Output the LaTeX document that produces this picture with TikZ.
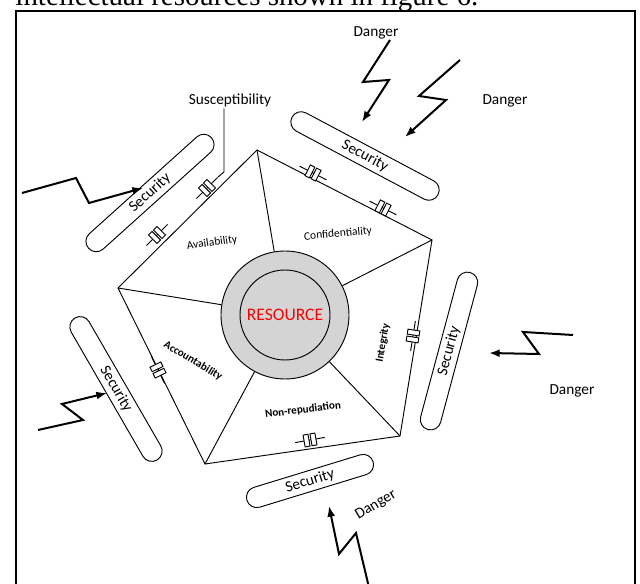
\documentclass[tikz,border=0pt]{standalone}
\usepackage{fontspec}
\setmainfont{Carlito}
\newfontfamily\captionfont{Liberation Serif}
\usetikzlibrary{arrows.meta}

\begin{document}
\begin{tikzpicture}[x=0.75pt,y=-0.75pt,line width=0.7pt]
\tikzstyle{shield}=[draw, rounded corners=7.75pt, minimum height=15.5pt, inner sep=0pt, font=\fontsize{11.5}{12}\selectfont]
\tikzstyle{danger}=[inner sep=1pt, font=\fontsize{11.5}{12}\selectfont]
\tikzstyle{face}=[inner sep=1pt, font=\fontsize{8.6}{10}\selectfont]
\tikzstyle{facebold}=[inner sep=1pt, font=\fontsize{8.3}{10}\selectfont\bfseries]
\tikzstyle{bolt}=[line width=1.5pt, -{Latex[length=8pt,width=6pt]}]
\tikzset{gap/.pic={
  \draw (-15,0) -- (15,0);
  \draw[fill=white] (-6,-6) rectangle (-1,6);
  \draw[fill=white] (1,-6) rectangle (6,6);
}}
\useasboundingbox (0,0) rectangle (640,584);

% caption line of the page, cut off at the top
\node[anchor=base west, inner sep=0pt, font=\captionfont\fontsize{21.7}{24}\selectfont] (cap) at (15,6) {intellectual resources shown in figure 6.};
\draw[line width=1.8pt] (16,11) rectangle (635,600);

% pentagon of properties
\coordinate (pT) at (257,150);
\coordinate (pR) at (432,240);
\coordinate (pBR) at (400,436);
\coordinate (pBL) at (205,464);
\coordinate (pL) at (118,288);
\draw (pT) -- (pR) -- (pBR) -- (pBL) -- (pL) -- cycle;

% resource in the middle
\node[circle, draw, fill=black!17, minimum size=96pt] (res) at (285,315) {};
\node[circle, draw, minimum size=67.5pt, inner sep=0pt, text=red, font=\fontsize{13.2}{14}\selectfont] (core) at (res) {RESOURCE};
\foreach \v in {pT,pR,pBR,pBL,pL}
  \draw (\v) -- (res);

\node[face, rotate=8] (avail) at (212,243) {Availability};
\node[face, rotate=5] (conf) at (338,234) {Confidentiality};
\node[facebold, rotate=80] (integ) at (383,343) {Integrity};
\node[facebold, rotate=-31] (acc) at (193,361) {Accountability};
\node[facebold, rotate=7] (nonrep) at (303,410) {Non-repudiation};

% susceptibilities on the sides
\pic[rotate=45] (g1) at (207,188) {gap};
\pic[rotate=45] (g2) at (157,235) {gap};
\pic[rotate=-27] (g3) at (313,173) {gap};
\pic[rotate=-27] (g4) at (383,208) {gap};
\pic[rotate=81] (g5) at (413,336) {gap};
\pic[rotate=-64] (g6) at (158,370) {gap};
\pic[rotate=10] (g7) at (310,440) {gap};

\node[danger] (susclbl) at (230,100) {Susceptibility};
\coordinate (lead) at (224,172);
\coordinate (g1end) at (218,177);
\draw (lead |- susclbl.south) -- (lead) -- (g1end);

% security shields
\node[shield, minimum width=124pt, rotate=42] (sec1) at (150,193) {Security};
\node[shield, minimum width=124pt, rotate=-28] (sec2) at (365,156) {Security};
\node[shield, minimum width=122pt, rotate=75] (sec3) at (449,351) {Security};
\node[shield, minimum width=123pt, rotate=-60] (sec4) at (116,389) {Security};
\node[shield, minimum width=99pt, rotate=17] (sec5) at (310,481) {Security};

% dangers
\node[danger] (dgr1) at (376,33) {Danger};
\node[danger] (dgr2) at (505,101) {Danger};
\node[danger] (dgr3) at (572,391) {Danger};
\node[danger, rotate=31] (dgr4) at (376,505) {Danger};

\coordinate (b1s) at (390,40);   \coordinate (b1t) at (362,122);
\coordinate (b2s) at (460,60);   \coordinate (b2t) at (405,137);
\coordinate (b3s) at (22,193);   \coordinate (b3t) at (143,188);
\coordinate (b4s) at (573,335);  \coordinate (b4t) at (489,353);
\coordinate (b5s) at (38,430);   \coordinate (b5t) at (107,393);
\coordinate (b6s) at (372,600);  \coordinate (b6t) at (329,506);
\draw[bolt] (b1s) -- (363,82) -- (389,80) -- (b1t);
\draw[bolt] (b2s) -- (419,96) -- (446,100) -- (b2t);
\draw[bolt] (b3s) -- (76,178) -- (89,203) -- (b3t);
\draw[bolt] (b4s) -- (523,332) -- (539,354) -- (b4t);
\draw[bolt] (b5s) -- (83,420) -- (62,404) -- (b5t);
\draw[bolt] (b6s) -- (356,533) -- (339,554) -- (b6t);
\end{tikzpicture}
\end{document}
